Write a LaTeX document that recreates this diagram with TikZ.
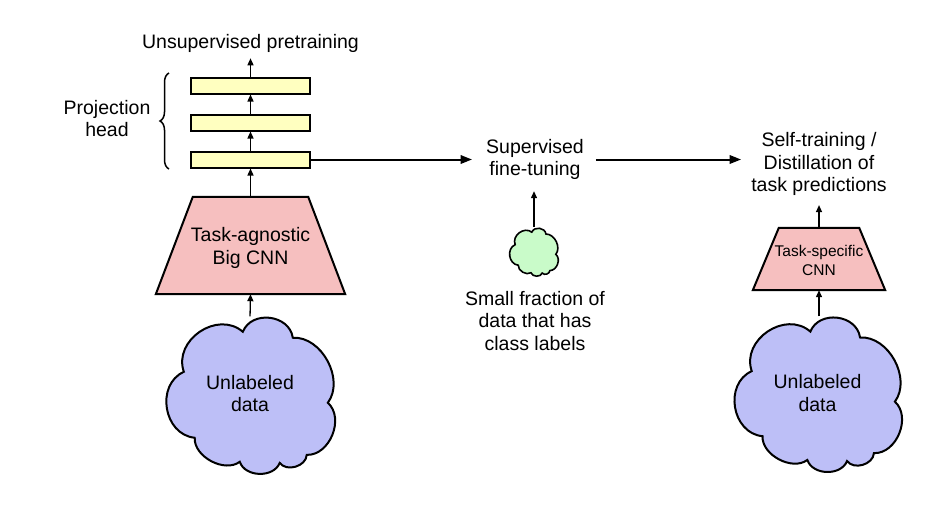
\documentclass[tikz,border=0pt]{standalone}
\usepackage{fontspec}
\setmainfont{Liberation Sans}
\usetikzlibrary{arrows.meta,decorations.pathreplacing,backgrounds}
\definecolor{boxyellow}{HTML}{FFFFC0}
\definecolor{cnnpink}{HTML}{F6BFBF}
\definecolor{cloudblue}{HTML}{BDBFF7}
\definecolor{cloudgreen}{HTML}{C9FBC9}
\begin{document}
\begin{tikzpicture}[x=1pt,y=-1pt,
  txt/.style={inner sep=0pt, align=center, font=\fontsize{19.5}{22.8}\selectfont},
  smalltxt/.style={inner sep=0pt, align=center, font=\fontsize{15.5}{19}\selectfont},
  layerbox/.style={draw, line width=2pt, fill=boxyellow, minimum width=119pt, minimum height=16pt, inner sep=0pt},
  anchorbox/.style={inner sep=0pt, minimum width=#1},
  cloudanchor/.style={inner sep=0pt, align=center, font=\fontsize{19.5}{22.8}\selectfont},
  arr/.style={line width=1.3pt, -{Triangle[length=7pt,width=6pt]}},
  harr/.style={line width=2pt, -{Triangle[length=11.5pt,width=8.5pt]}},
  trap/.style={draw, line width=2pt, fill=cnnpink, line join=miter},
  cloudshape/.pic={
    \path[pic actions] (0.112,0.344)
      to[bend left=75,looseness=1.2] (0.459,0.089)
      to[bend left=75,looseness=1.2] (0.753,0.127)
      to[bend left=65,looseness=1.0] (0.959,0.541)
      to[bend left=70,looseness=1.05] (0.835,0.873)
      to[bend left=70,looseness=1.05] (0.676,0.924)
      to[bend left=70,looseness=1.05] (0.441,0.917)
      to[bend left=65,looseness=0.95] (0.176,0.764)
      to[bend left=75,looseness=1.2] (0.112,0.344) -- cycle;
  }
]
\useasboundingbox (0,0) rectangle (944,504);

% left column
\node[txt] (pre) at (250.5,43) {Unsupervised pretraining};
\node[layerbox] (b1) at (250.5,85.5) {};
\node[layerbox] (b2) at (250.5,122.5) {};
\node[layerbox] (b3) at (250.5,159.5) {};
\node[txt] (proj) at (107,118.5) {Projection\\head};
\draw[decorate, decoration={brace, amplitude=9pt}, line width=1.5pt]
  ([xshift=-21pt,yshift=-0.5pt]b3.south west) -- ([xshift=-21pt,yshift=3.5pt]b1.north west);

\node[anchorbox=189pt, minimum height=97pt] (cnn) at (250.5,245.5) {};
\draw[trap] (cnn.south west) -- (cnn.south east) -- ([xshift=-37pt]cnn.north east) -- ([xshift=37pt]cnn.north west) -- cycle;
\node[txt] (cnntxt) at (250.5,248) {Task-agnostic\\Big CNN};

\node[cloudanchor, minimum width=170pt, minimum height=151pt] (c1) at (250,393.5) {Unlabeled\\data};
\begin{scope}[on background layer]
  \pic[draw, fill=cloudblue, line width=2pt, x=170pt, y=-157pt] at (c1.north west) {cloudshape};
\end{scope}

\draw[arr, shorten >=6pt] (b1.north) -- (pre.south);
\draw[arr] (b2.north) -- (b1.south);
\draw[arr] (b3.north) -- (b2.south);
\draw[arr] (cnn.north) -- (b3.south);
\draw[arr, shorten <=1.5pt] (c1.north) -- (cnn.south);

% middle column
\node[txt] (sup) at (535,159.5) {Supervised\\fine-tuning};
\node[inner sep=0pt, minimum width=48pt, minimum height=49pt] (c2) at (534,252.5) {};
\begin{scope}[on background layer]
  \pic[draw, fill=cloudgreen, line width=1.6pt, x=48pt, y=-49pt] at (c2.north west) {cloudshape};
\end{scope}
\node[txt] (frac) at (535,321) {Small fraction of\\data that has\\class labels};
\draw[arr, shorten >=11pt, shorten <=1pt] (c2.north) -- (c2.north |- sup.south);
\draw[harr, shorten >=14pt] (b3.east) -- (b3.east -| sup.west);

% right column
\node[txt] (st) at (819,164) {Self-training /\\Distillation of\\task predictions};
\draw[harr, shorten <=12pt, shorten >=10pt] (sup.east) -- (sup.east -| st.west);

\node[anchorbox=132pt, minimum height=62pt] (ts) at (819,259) {};
\draw[trap] (ts.south west) -- (ts.south east) -- ([xshift=-26pt]ts.north east) -- ([xshift=26pt]ts.north west) -- cycle;
\node[smalltxt] (tstxt) at (819,260) {Task-specific\\CNN};

\node[cloudanchor, minimum width=169pt, minimum height=150pt] (c3) at (817.5,393) {Unlabeled\\data};
\begin{scope}[on background layer]
  \pic[draw, fill=cloudblue, line width=2pt, x=169pt, y=-155pt] at (c3.north west) {cloudshape};
\end{scope}

\draw[arr, shorten >=9pt] (ts.north) -- (st.south);
\draw[arr, shorten <=1.5pt] (c3.north -| ts.south) -- (ts.south);
\end{tikzpicture}
\end{document}
